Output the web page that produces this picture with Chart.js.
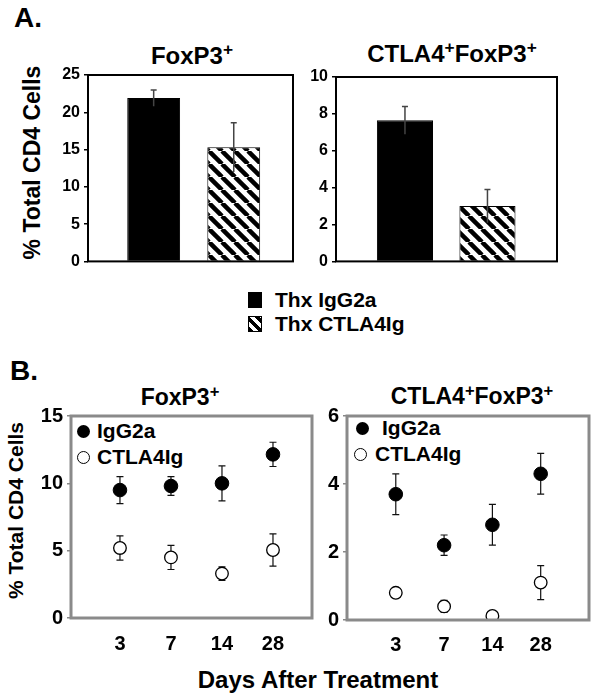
<!DOCTYPE html>
<html>
<head>
<meta charset="utf-8">
<script src="https://cdn.jsdelivr.net/npm/chart.js@4.4.1/dist/chart.umd.min.js"></script>
<style>
  html, body { margin: 0; padding: 0; background: #fff; }
  body { width: 602px; height: 699px; position: relative; overflow: hidden;
         font-family: Arial, "Liberation Sans", sans-serif; font-weight: bold; color: #000; }
  canvas { position: absolute; }
  .t { position: absolute; line-height: 1; white-space: nowrap; }
  .c { text-align: center; }
  sup { font-size: 0.72em; vertical-align: 0.5em; line-height: 0; }
  .sq { position: absolute; box-sizing: border-box; }
  .dot { position: absolute; width: 13px; height: 13px; border-radius: 50%; box-sizing: border-box; }
</style>
</head>
<body>
<div class="t" style="left:14px;top:4px;font-size:28px;">A.</div>
<div class="t c" style="left:92px;top:44px;width:200px;font-size:24px;">FoxP3<sup>+</sup></div>
<div class="t c" style="left:352px;top:42px;width:200px;font-size:24px;">CTLA4<sup>+</sup>FoxP3<sup>+</sup></div>
<div class="t c" style="left:-98px;top:151px;width:260px;font-size:23px;transform:rotate(-90deg);">% Total CD4 Cells</div>

<div class="sq" style="left:248px;top:292px;width:14px;height:16px;background:#000;"></div>
<div class="t" style="left:275px;top:289px;font-size:21px;">Thx IgG2a</div>
<div class="sq" style="left:248px;top:316px;width:14px;height:16px;border:1.5px solid #000;
  background:repeating-linear-gradient(45deg,#000 0 3px,#fff 3px 7px);"></div>
<div class="t" style="left:275px;top:313px;font-size:21px;">Thx CTLA4Ig</div>

<div class="t" style="left:10px;top:357px;font-size:28px;">B.</div>
<div class="t c" style="left:80px;top:386px;width:200px;font-size:23px;">FoxP3<sup>+</sup></div>
<div class="t c" style="left:372px;top:385px;width:200px;font-size:23px;">CTLA4<sup>+</sup>FoxP3<sup>+</sup></div>
<div class="t c" style="left:-115px;top:500px;width:260px;font-size:21px;transform:rotate(-90deg);">% Total CD4 Cells</div>
<div class="t c" style="left:168px;top:668px;width:300px;font-size:24px;">Days After Treatment</div>

<div class="dot" style="left:77px;top:425px;background:#000;"></div>
<div class="t" style="left:97px;top:420px;font-size:21px;">IgG2a</div>
<div class="dot" style="left:77px;top:451px;background:#fff;border:1.3px solid #000;"></div>
<div class="t" style="left:97px;top:446px;font-size:21px;">CTLA4Ig</div>

<div class="dot" style="left:356px;top:422px;background:#000;"></div>
<div class="t" style="left:382px;top:417px;font-size:21px;">IgG2a</div>
<div class="dot" style="left:354px;top:448px;background:#fff;border:1.3px solid #000;"></div>
<div class="t" style="left:375px;top:443px;font-size:21px;">CTLA4Ig</div>

<canvas id="a1" width="265" height="215" style="left:40px;top:60px;"></canvas>
<canvas id="a2" width="270" height="215" style="left:300px;top:60px;"></canvas>
<canvas id="b1" width="295" height="262" style="left:25px;top:400px;"></canvas>
<canvas id="b2" width="280" height="262" style="left:320px;top:400px;"></canvas>

<script>
// Panel A: bar values (% of total CD4) with SEM
const barGroups = ['Thx IgG2a', 'Thx CTLA4Ig'];
const foxBar = [21.9, 15.3];
const foxBarErr = [1.1, 3.3];
const ctlaBar = [7.65, 3.0];
const ctlaBarErr = [0.75, 0.9];
const foxBarTicks = [0, 5, 10, 15, 20, 25];
const ctlaBarTicks = [0, 2, 4, 6, 8, 10];

// Panel B: time course
const days = ['3', '7', '14', '28'];
const foxIgG = [9.5, 9.8, 10.0, 12.15];
const foxIgGErr = [1.0, 0.7, 1.3, 0.9];
const foxCtla = [5.2, 4.5, 3.3, 5.05];
const foxCtlaErr = [0.9, 0.9, 0.5, 1.2];
const dblIgG = [3.7, 2.2, 2.8, 4.3];
const dblIgGErr = [0.6, 0.3, 0.6, 0.6];
const dblCtla = [0.8, 0.4, 0.12, 1.1];
const dblCtlaErr = [0.05, 0.18, 0.05, 0.5];
const foxTimeTicks = [0, 5, 10, 15];
const dblTimeTicks = [0, 2, 4, 6];

Chart.defaults.font.family = 'Arial, "Liberation Sans", sans-serif';
Chart.defaults.font.weight = 'bold';
Chart.defaults.color = '#000';

// diagonal hatch for the CTLA4Ig bars
function hatch() {
  const s = 13;
  const c = document.createElement('canvas');
  c.width = s; c.height = s;
  const g = c.getContext('2d');
  g.fillStyle = '#fff';
  g.fillRect(0, 0, s, s);
  g.strokeStyle = '#000';
  g.lineWidth = 4.5;
  for (let k = -1; k <= 1; k++) {
    g.beginPath();
    g.moveTo(k * s, 0);
    g.lineTo(k * s + s, s);
    g.stroke();
  }
  return g.createPattern(c, 'repeat');
}

const errorBars = {
  id: 'errorBars',
  draw(chart, o) {
    const ctx = chart.ctx, ys = chart.scales.y;
    ctx.save();
    ctx.strokeStyle = o.color;
    ctx.lineWidth = o.width;
    chart.data.datasets.forEach((ds, i) => {
      chart.getDatasetMeta(i).data.forEach((el, j) => {
        const v = ds.data[j].y, e = ds.errors[j];
        const yt = ys.getPixelForValue(v + e), yb = ys.getPixelForValue(v - e);
        ctx.beginPath();
        ctx.moveTo(el.x, yt); ctx.lineTo(el.x, yb);
        ctx.moveTo(el.x - o.cap, yt); ctx.lineTo(el.x + o.cap, yt);
        if (o.bottomCap) { ctx.moveTo(el.x - o.cap, yb); ctx.lineTo(el.x + o.cap, yb); }
        ctx.stroke();
      });
    });
    ctx.restore();
  },
  beforeDatasetsDraw(chart, args, o) { if (o.under) this.draw(chart, o); },
  afterDatasetsDraw(chart, args, o) { if (!o.under) this.draw(chart, o); }
};

const frame = {
  id: 'frame',
  afterDraw(chart, args, o) {
    const a = chart.chartArea, ctx = chart.ctx;
    ctx.save();
    ctx.strokeStyle = o.color;
    ctx.lineWidth = o.width;
    ctx.strokeRect(a.left, a.top, a.right - a.left, a.bottom - a.top);
    ctx.restore();
  }
};

function yAxis(ticks, w, size, color, family) {
  return {
    min: ticks[0], max: ticks[ticks.length - 1],
    afterFit: s => { s.width = w; },
    afterBuildTicks: s => { s.ticks = ticks.map(v => ({ value: v })); },
    border: { display: false },
    grid: { drawOnChartArea: false, tickLength: 4, color: color, lineWidth: 1.5 },
    ticks: { padding: 4, font: { size: size, family: family } }
  };
}

function barChart(id, vals, errs, ticks, xr, yw, pad, pct, family) {
  new Chart(document.getElementById(id), {
    type: 'bar',
    data: {
      datasets: [{
        label: barGroups.join(' / '),
        data: vals.map((v, i) => ({ x: i, y: v })),
        errors: errs,
        backgroundColor: ['#000', hatch()],
        borderColor: '#000',
        borderWidth: 1,
        barPercentage: pct,
        categoryPercentage: 1
      }]
    },
    options: {
      responsive: false,
      animation: false,
      layout: { padding: pad },
      scales: {
        x: {
          type: 'linear', min: xr[0], max: xr[1], offset: false, display: false,
          afterBuildTicks: s => { s.ticks = vals.map((v, i) => ({ value: i })); }
        },
        y: yAxis(ticks, yw, 16, '#000', family)
      },
      plugins: {
        legend: { display: false },
        tooltip: { enabled: false },
        errorBars: { color: '#444', width: 1.5, cap: 3, bottomCap: false, under: false },
        frame: { color: '#000', width: 2 }
      }
    },
    plugins: [errorBars, frame]
  });
}

function timeChart(id, igg, iggErr, ctla, ctlaErr, ticks, xr, yw, pad, lp, xh) {
  const pts = arr => arr.map((v, i) => ({ x: i, y: v }));
  new Chart(document.getElementById(id), {
    type: 'scatter',
    data: {
      datasets: [
        { label: 'IgG2a', data: pts(igg), errors: iggErr, pointRadius: 6.8,
          backgroundColor: '#000', borderColor: '#000', borderWidth: 1 },
        { label: 'CTLA4Ig', data: pts(ctla), errors: ctlaErr, pointRadius: 6.3,
          backgroundColor: '#fff', borderColor: '#000', borderWidth: 1.3 }
      ]
    },
    options: {
      responsive: false,
      animation: false,
      layout: { padding: pad },
      scales: {
        x: {
          type: 'linear', min: xr[0], max: xr[1],
          afterFit: s => { s.height = xh; },
          afterBuildTicks: s => { s.ticks = days.map((d, i) => ({ value: i })); },
          border: { display: false },
          grid: { display: false, drawTicks: false },
          ticks: { padding: lp, font: { size: 20 }, callback: v => days[v] }
        },
        y: yAxis(ticks, yw, 20, '#888', undefined)
      },
      plugins: {
        legend: { display: false },
        tooltip: { enabled: false },
        errorBars: { color: '#111', width: 1.2, cap: 3.5, bottomCap: true, under: true },
        frame: { color: '#8a8a8a', width: 3 }
      }
    },
    plugins: [errorBars, frame]
  });
}

barChart('a1', foxBar, foxBarErr, foxBarTicks, [-0.82, 1.74], 48,
  { top: 15, right: 12, bottom: 12, left: 0 }, 0.66, undefined);
barChart('a2', ctlaBar, ctlaBarErr, ctlaBarTicks, [-0.836, 1.843], 36,
  { top: 17, right: 13, bottom: 11, left: 0 }, 0.68, '"Liberation Sans Narrow", Arial, sans-serif');

timeChart('b1', foxIgG, foxIgGErr, foxCtla, foxCtlaErr, foxTimeTicks, [-0.96, 3.765], 46,
  { top: 13, right: 8, bottom: 0, left: 0 }, 14, 44);
timeChart('b2', dblIgG, dblIgGErr, dblCtla, dblCtlaErr, dblTimeTicks, [-1.01, 4.0], 27,
  { top: 14, right: 11, bottom: 0, left: 0 }, 13, 42);
</script>
</body>
</html>
